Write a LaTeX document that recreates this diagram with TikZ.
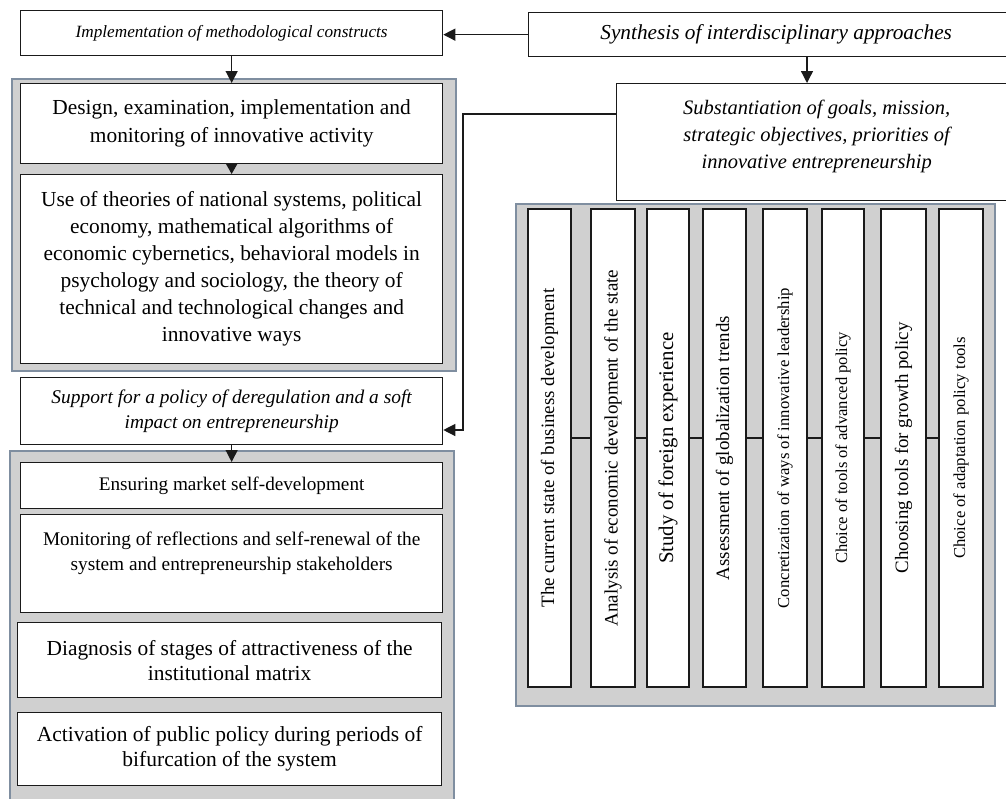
\documentclass[tikz,border=0pt]{standalone}
\usepackage{fontspec}
\setmainfont{Liberation Serif}
\usetikzlibrary{arrows.meta}
\definecolor{panelgray}{HTML}{D0D0D0}
\definecolor{paneledge}{HTML}{7F8EA0}
\definecolor{ink}{HTML}{1A1A1A}
\newcommand\fsz[2]{\fontsize{#1}{#2}\selectfont}
\begin{document}
\begin{tikzpicture}[x=1pt,y=-1pt,
 box/.style={draw=ink, line width=1.3pt, fill=white, inner sep=0pt, align=center, anchor=north west},
 panel/.style={draw=paneledge, line width=1.5pt, fill=panelgray, inner sep=0pt, anchor=north west},
 colbox/.style={draw=ink, line width=1.3pt, fill=white, inner sep=0pt, rotate=90, minimum width=478pt},
 arr/.style={draw=ink, line width=1.3pt, -{Triangle[length=12pt,width=12pt]}},
 sarr/.style={draw=ink, line width=1.3pt, -{Triangle[length=10pt,width=11pt]}},
 link/.style={draw=ink, line width=1.3pt}]
\useasboundingbox (0,0) rectangle (1006,798);
% panels
\node[panel, minimum width=444pt, minimum height=292pt] (p1) at (11,78) {};
\node[panel, minimum width=444pt, minimum height=360pt] (p2) at (9,450) {};
\node[panel, minimum width=479pt, minimum height=502pt] (p3) at (515,203) {};
% top boxes
\node[box, minimum width=422pt, minimum height=45pt, font=\fsz{17.2}{20}\itshape] (a) at (20,10) {Implementation of methodological constructs};
\node[box, minimum width=495pt, minimum height=44pt, font=\fsz{21.3}{24}\itshape] (syn) at (528,12) {Synthesis of interdisciplinary approaches};
\node[box, minimum width=400pt, minimum height=117pt, font=\fsz{20.5}{27}\itshape] (sub) at (616,83) {Substantiation of goals, mission,\\strategic objectives, priorities of\\innovative entrepreneurship\\[-11pt]\mbox{}};
% left column
\node[box, minimum width=422pt, minimum height=80pt, font=\fsz{21.4}{28}] (design) at (20,83) {Design, examination, implementation and\\monitoring of innovative activity};
\node[box, minimum width=422pt, minimum height=189pt, font=\fsz{21.4}{27}] (use) at (20,174) {Use of theories of national systems, political\\economy, mathematical algorithms of\\economic cybernetics, behavioral models in\\psychology and sociology, the theory of\\technical and technological changes and\\innovative ways};
\node[box, minimum width=422pt, minimum height=67pt, font=\fsz{19.4}{25}\itshape] (support) at (20,377) {Support for a policy of deregulation and a soft\\impact on entrepreneurship};
\node[box, minimum width=422pt, minimum height=46pt, font=\fsz{19.2}{22}] (ensure) at (20,462) {Ensuring market self-development};
\node[box, minimum width=422pt, minimum height=98pt, font=\fsz{19.3}{25}] (monitor) at (20,514) {Monitoring of reflections and self-renewal of the\\system and entrepreneurship stakeholders\\\mbox{}};
\node[box, minimum width=424pt, minimum height=75pt, font=\fsz{21.4}{25}] (diag) at (17,622) {Diagnosis of stages of attractiveness of the\\institutional matrix};
\node[box, minimum width=424pt, minimum height=73pt, font=\fsz{21.5}{25}] (activ) at (17,712) {Activation of public policy during periods of\\bifurcation of the system};
% vertical columns
\node[colbox, minimum height=43pt, font=\fsz{18.9}{20}] (c1) at (549.5,448) {The current state of business development};
\node[colbox, minimum height=44pt, font=\fsz{19}{20}] (c2) at (613,448) {Analysis of economic development of the state};
\node[colbox, minimum height=42pt, font=\fsz{20.8}{20}] (c3) at (668,448) {Study of foreign experience};
\node[colbox, minimum height=43pt, font=\fsz{18.9}{20}] (c4) at (724.5,448) {Assessment of globalization trends};
\node[colbox, minimum height=44pt, font=\fsz{16.7}{20}] (c5) at (785,448) {Concretization of ways of innovative leadership};
\node[colbox, minimum height=42pt, font=\fsz{16.6}{20}] (c6) at (843,448) {Choice of tools of advanced policy};
\node[colbox, minimum height=45pt, font=\fsz{18.9}{20}] (c7) at (903.5,448) {Choosing tools for growth policy};
\node[colbox, minimum height=44pt, font=\fsz{16.7}{20}] (c8) at (961,448) {Choice of adaptation policy tools};
% helper coordinates
\coordinate (hy) at (0,438);
\coordinate (sx) at (807,0);
\coordinate (k1) at (463,114);
\coordinate (k2) at (463,430);
% column links
\foreach \l/\r in {c1/c2,c2/c3,c3/c4,c4/c5,c5/c6,c6/c7,c7/c8}
  \draw[link] (\l.south |- hy) -- (\r.north |- hy);
% arrows
\draw[arr] (syn.west) -- (a.east |- syn.west);
\draw[arr] (syn.south -| sx) -- (sub.north -| sx);
\draw[arr] (a.south) -- (design.north);
\draw[sarr] (design.south) -- (use.north);
\draw[arr] (sub.west |- k1) -- (k1) -- (k2) -- (support.east |- k2);
\draw[arr] (support.south) -- (ensure.north);
\end{tikzpicture}
\end{document}
